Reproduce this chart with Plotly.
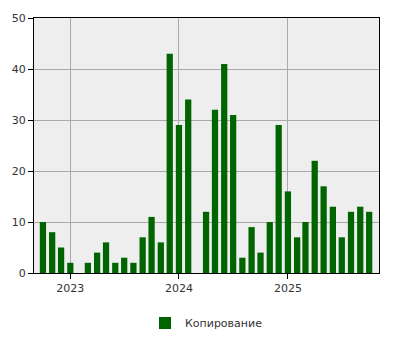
import plotly.graph_objects as go

months = ["2022-10-01", "2022-11-01", "2022-12-01", "2023-01-01", "2023-02-01", "2023-03-01",
          "2023-04-01", "2023-05-01", "2023-06-01", "2023-07-01", "2023-08-01", "2023-09-01",
          "2023-10-01", "2023-11-01", "2023-12-01", "2024-01-01", "2024-02-01", "2024-03-01",
          "2024-04-01", "2024-05-01", "2024-06-01", "2024-07-01", "2024-08-01", "2024-09-01",
          "2024-10-01", "2024-11-01", "2024-12-01", "2025-01-01", "2025-02-01", "2025-03-01",
          "2025-04-01", "2025-05-01", "2025-06-01", "2025-07-01", "2025-08-01", "2025-09-01",
          "2025-10-01"]
values = [10, 8, 5, 2, 0, 2,
          4, 6, 2, 3, 2, 7,
          11, 6, 43, 29, 34, 0,
          12, 32, 41, 31, 3, 9,
          4, 10, 29, 16, 7, 10,
          22, 17, 13, 7, 12, 13,
          12]
series_name = "Копирование"
year_ticks = ["2023-01-01", "2024-01-01", "2025-01-01"]
year_labels = ["2023", "2024", "2025"]
y_ticks = [0, 10, 20, 30, 40, 50]

DAY = 86400000

fig = go.Figure()
fig.add_trace(go.Bar(
    x=months, y=values, name=series_name,
    marker=dict(color="#006400", line=dict(width=0)),
    width=[21 * DAY] * len(months),
    showlegend=True,
))

fig.update_layout(
    width=400, height=350,
    margin=dict(l=32, r=21, t=15, b=75),
    paper_bgcolor="white",
    plot_bgcolor="#eeeeee",
    font=dict(family="DejaVu Sans", size=11, color="#333333"),
    showlegend=True,
    legend=dict(orientation="h", x=0.5, xanchor="center", y=-0.196, yanchor="middle",
                font=dict(size=11, color="#333333")),
    xaxis=dict(
        type="date",
        range=["2022-09-01", "2025-11-03"],
        tickvals=year_ticks, ticktext=year_labels,
        ticks="outside", ticklen=5, tickcolor="black",
        showgrid=True, gridcolor="#aaaaaa", gridwidth=1,
        showline=True, linecolor="black", linewidth=1, mirror=True,
        zeroline=False,
    ),
    yaxis=dict(
        range=[0, 50],
        tickvals=y_ticks,
        ticks="outside", ticklen=5, tickcolor="black",
        showgrid=True, gridcolor="#aaaaaa", gridwidth=1,
        showline=True, linecolor="black", linewidth=1, mirror=True,
        zeroline=False,
    ),
)

fig.write_html("out.html")
